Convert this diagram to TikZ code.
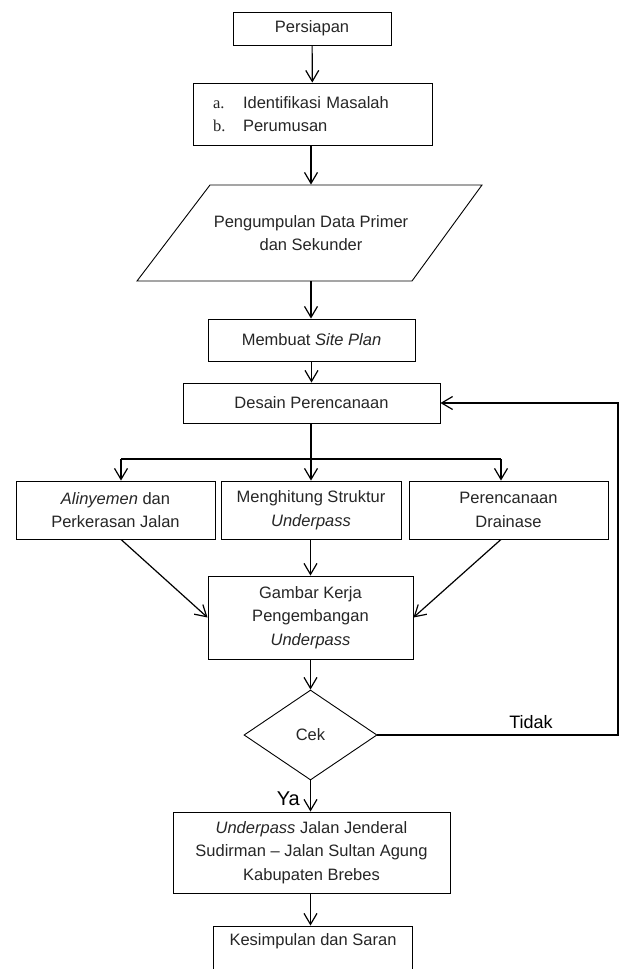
\documentclass[tikz,border=0pt]{standalone}
\usepackage{fontspec}
\setmainfont{Liberation Sans}
\newfontfamily\serifnum{Liberation Serif}
\usetikzlibrary{arrows.meta,shapes.geometric,calc}
\begin{document}
\begin{tikzpicture}[x=1pt,y=-1pt,
  box/.style={draw, line width=0.9pt, inner sep=0pt, align=center, text=black!85,
    font=\fontsize{16.5}{23.5}\selectfont},
  arr/.style={-{Straight Barb[length=11pt,width=13pt,line width=1.2pt]}, line width=1.2pt},
  ln/.style={line width=1.2pt},
  lbl/.style={text=black, inner sep=0pt}
]
\useasboundingbox (0,0) rectangle (622,969);
\fill[white] (0,0) rectangle (622,969);

\node[box, minimum width=158pt, minimum height=33pt] (pers) at (312,28.5) {Persiapan};
\node[box, minimum width=239pt, minimum height=62pt, text width=199pt, inner xsep=20pt, align=left] (ident) at (312.5,114)
  {\makebox[30pt][l]{\serifnum a.}Identifikasi Masalah\\\makebox[30pt][l]{\serifnum b.}Perumusan};

% parallelogram
\node[box, draw=none, minimum width=200pt, minimum height=96pt] (para) at (311,233) {Pengumpulan Data Primer\\dan Sekunder};
\draw[line width=0.9pt] (210,185) -- (482,185) -- (412,281) -- (137,281) -- cycle;

\node[box, minimum width=207pt, minimum height=42pt] (site) at (311.5,340) {Membuat \textit{Site Plan}};
\node[box, minimum width=257pt, minimum height=40pt] (desain) at (311.5,403) {Desain Perencanaan};

\node[box, minimum width=199pt, minimum height=58pt] (left) at (115.5,510) {\textit{Alinyemen} dan\\Perkerasan Jalan};
\node[box, minimum width=180pt, minimum height=58pt] (mid) at (311,510) {Menghitung Struktur\\\textit{Underpass}};
\node[box, minimum width=199pt, minimum height=58pt] (right) at (508.5,510) {Perencanaan\\Drainase};

\node[box, minimum width=205pt, minimum height=83pt] (gambar) at (310.5,617.5) {Gambar Kerja\\Pengembangan\\\textit{Underpass}};
\node[box, diamond, minimum width=133pt, minimum height=90pt] (cek) at (310.5,735) {Cek};

\node[box, minimum width=277pt, minimum height=81pt] (under) at (311.5,852.5)
  {\textit{Underpass} Jalan Jenderal\\Sudirman -- Jalan Sultan Agung\\Kabupaten Brebes};
\node[box, minimum width=199pt, minimum height=58pt] (kes) at (313,955) {Kesimpulan dan Saran\\\strut};

\coordinate (branch) at (311,459);
\coordinate (ldrop) at ($(left.north)+(5.5,0)$);
\coordinate (rdrop) at ($(right.north)+(-7.5,0)$);
\coordinate (lout) at ($(left.south)+(5.5,0)$);
\coordinate (rout) at ($(right.south)+(-7.5,0)$);
\coordinate (fb) at (618,403);

\draw[arr] (pers) -- (ident);
\draw[arr] (ident.south -| para.north) -- (para.north);
\draw[arr] (para.south) -- (site.north -| para.south);
\draw[arr] (site) -- (desain);
\draw[arr] (desain.south -| mid.north) -- (mid.north);
\draw[ln] (ldrop |- branch) -- (rdrop |- branch);
\draw[arr] (ldrop |- branch) -- (ldrop);
\draw[arr] (rdrop |- branch) -- (rdrop);
\draw[arr] (lout) -- (gambar.west);
\draw[arr] (rout) -- (gambar.east);
\draw[arr] (mid.south -| gambar.north) -- (gambar.north);
\draw[arr] (gambar) -- (cek);
\draw[arr] (cek.south) -- (under.north -| cek.south);
\draw[arr] (under.south -| cek.south) -- (kes.north -| cek.south);
\draw[arr] (cek.east) -| (fb) -- (desain.east);

\node[lbl, font=\fontsize{20}{24}\selectfont, anchor=base east] (ya) at (300,805) {Ya};
\node[lbl, font=\fontsize{18}{22}\selectfont, anchor=base] (tidak) at (531,728) {Tidak};
\end{tikzpicture}
\end{document}
